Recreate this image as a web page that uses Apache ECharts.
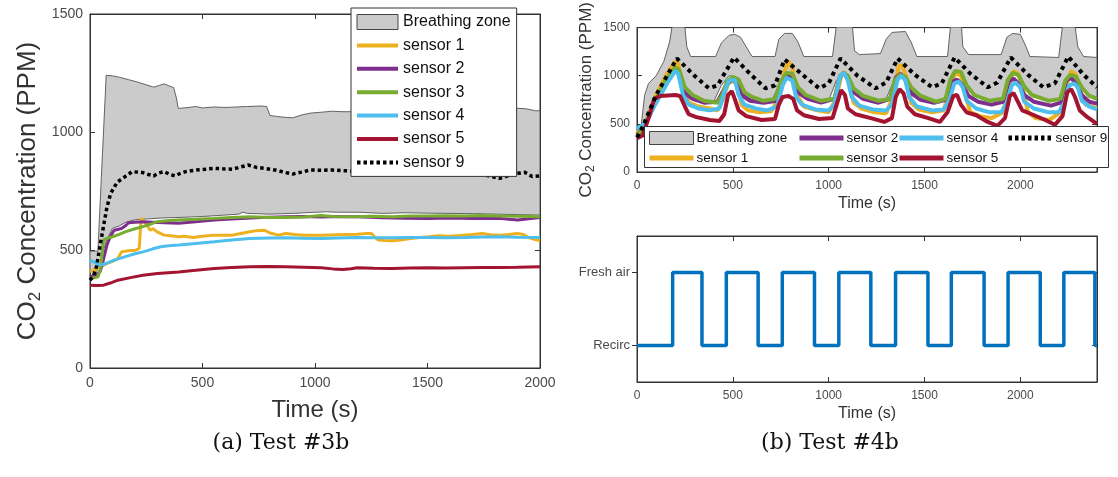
<!DOCTYPE html>
<html>
<head>
<meta charset="utf-8">
<script src="https://cdn.jsdelivr.net/npm/echarts@6/dist/echarts.min.js"></script>
<style>
  html, body { margin: 0; padding: 0; background: #fff; }
  #chart { width: 1118px; height: 477px; }
</style>
</head>
<body>
<div id="chart"></div>
<script>
// ---------- (a) Test #3b : [time (s), CO2 (ppm)] ----------
const bzUpperA = [[0,495],[35,495],[50,800],[72,1240],[100,1238],[130,1232],[170,1222],[210,1212],[250,1200],[283,1190],[310,1198],[330,1204],[350,1196],[372,1188],[385,1140],[392,1100],[440,1104],[470,1108],[500,1102],[550,1106],[600,1104],[650,1106],[700,1108],[760,1110],[785,1108],[800,1070],[830,1066],[870,1062],[900,1060],[940,1072],[980,1080],[1030,1084],[1076,1088],[1120,1086],[1160,1086],[1200,1090],[1300,1094],[1400,1096],[1500,1098],[1600,1098],[1700,1100],[1800,1100],[1880,1102],[1940,1098],[1980,1090],[2000,1090]];
const bzLowerA = [[0,410],[30,410],[45,440],[60,500],[75,545],[100,592],[130,602],[160,618],[200,628],[260,632],[330,636],[400,638],[500,642],[600,648],[660,652],[680,660],[700,655],[800,652],[900,655],[1000,660],[1050,662],[1100,660],[1200,660],[1300,655],[1400,658],[1500,656],[1600,655],[1700,654],[1800,652],[1900,650],[2000,648]];
const s1A = [[0,407],[30,420],[50,430],[76,443],[100,452],[124,464],[140,492],[170,497],[203,499],[219,507],[227,634],[235,641],[250,610],[267,584],[280,590],[298,577],[330,563],[360,560],[394,556],[420,558],[457,553],[500,558],[552,563],[600,562],[632,563],[670,570],[711,577],[740,582],[775,584],[800,572],[838,563],[870,570],[910,566],[949,563],[1000,563],[1028,563],[1100,565],[1187,567],[1230,570],[1251,570],[1265,556],[1282,542],[1310,540],[1346,539],[1380,542],[1425,549],[1465,553],[1505,556],[1550,560],[1600,558],[1663,563],[1700,566],[1743,570],[1780,565],[1822,563],[1860,566],[1901,570],[1925,566],[1949,553],[1975,545],[2000,539]];
const s2A = [[0,386],[25,395],[44,407],[55,440],[65,480],[75,520],[84,542],[95,565],[108,584],[140,591],[160,605],[171,615],[200,618],[235,620],[300,617],[394,613],[470,620],[552,627],[650,632],[760,638],[870,641],[950,642],[1028,640],[1100,642],[1187,641],[1300,637],[1400,635],[1505,634],[1600,636],[1700,633],[1822,634],[1860,630],[1901,627],[1950,632],[2000,638]];
const s3A = [[0,379],[20,382],[36,386],[48,430],[60,542],[76,549],[100,556],[130,566],[156,577],[200,590],[235,599],[270,610],[298,620],[340,624],[394,627],[470,630],[552,634],[630,638],[711,641],[800,638],[870,638],[950,640],[1028,646],[1080,642],[1187,641],[1250,643],[1346,641],[1420,644],[1505,644],[1580,645],[1663,644],[1740,646],[1822,644],[1900,643],[1950,642],[2000,641]];
const s4A = [[0,457],[20,448],[44,436],[70,442],[108,457],[150,470],[200,484],[235,492],[280,505],[314,514],[350,518],[394,521],[470,528],[552,535],[630,542],[711,549],[790,551],[870,552],[950,550],[1028,549],[1100,551],[1187,553],[1260,552],[1346,552],[1420,553],[1505,553],[1580,552],[1663,553],[1740,555],[1822,556],[1900,554],[2000,553]];
const s5A = [[0,351],[30,350],[60,351],[90,360],[124,372],[180,383],[235,393],[300,400],[394,407],[470,414],[552,422],[630,426],[711,429],[790,430],[870,429],[950,427],[1028,425],[1080,420],[1124,417],[1160,421],[1187,425],[1260,423],[1346,422],[1420,424],[1505,425],[1580,424],[1663,425],[1740,426],[1822,426],[1900,427],[2000,429]];
const s9A = [[0,372],[15,390],[29,430],[45,520],[60,600],[75,680],[92,740],[110,770],[124,790],[140,800],[156,811],[187,832],[210,830],[235,828],[260,820],[283,814],[305,826],[330,832],[355,820],[378,814],[400,824],[425,832],[450,836],[473,839],[510,842],[552,846],[590,844],[632,842],[670,852],[703,860],[740,850],[775,846],[805,842],[838,836],[870,828],[901,822],[940,830],[981,839],[1030,838],[1076,839],[1120,836],[1155,835],[1200,832],[1250,836],[1300,838],[1350,840],[1400,838],[1450,842],[1500,840],[1550,836],[1600,838],[1650,836],[1700,826],[1750,818],[1790,810],[1822,804],[1850,812],[1875,822],[1901,825],[1933,829],[1950,820],[1965,811],[2000,814]];

// ---------- (b) Test #4b ----------
const bzUpperB = [[0,430],[20,450],[40,800],[60,920],[100,1000],[140,1150],[170,1350],[190,1600],[245,1600],[260,1300],[280,1200],[410,1200],[440,1340],[480,1420],[510,1430],[540,1400],[570,1300],[600,1200],[720,1200],[740,1380],[770,1440],[810,1440],[840,1350],[870,1200],[1020,1200],[1045,1600],[1120,1600],[1135,1260],[1160,1220],[1270,1230],[1300,1380],[1330,1450],[1400,1460],[1430,1350],[1460,1200],[1620,1200],[1640,1600],[1690,1600],[1700,1300],[1730,1220],[1900,1220],[1930,1400],[1960,1440],[2000,1430],[2030,1300],[2050,1200],[2200,1190],[2225,1600],[2280,1600],[2300,1300],[2330,1200],[2400,1190]];
const bzLowerB = [[0,350],[40,450],[100,700],[150,900],[200,1080],[230,1000],[260,850],[300,760],[360,720],[400,730],[440,900],[480,1000],[510,990],[540,850],[580,770],[640,720],[700,730],[740,900],[780,1000],[810,980],[840,850],[880,780],[950,720],[1000,740],[1040,950],[1070,1020],[1100,980],[1130,850],[1180,780],[1240,740],[1300,760],[1340,950],[1370,1020],[1400,980],[1430,850],[1480,770],[1540,720],[1600,740],[1640,950],[1670,1030],[1700,980],[1730,850],[1780,780],[1840,730],[1900,740],[1940,950],[1970,1010],[2000,980],[2030,860],[2080,780],[2140,740],[2200,760],[2240,960],[2270,1010],[2300,980],[2330,860],[2360,800],[2400,780]];
const s1B = [[0,400],[40,500],[100,800],[150,1000],[200,1150],[215,1120],[240,900],[270,720],[320,680],[380,660],[420,640],[450,760],[475,920],[500,950],[525,900],[545,700],[580,640],[640,620],[700,630],[740,760],[770,1050],[790,1150],[810,1080],[835,800],[870,680],[940,640],[1000,620],[1040,760],[1065,1000],[1080,1040],[1105,950],[1130,720],[1170,660],[1240,620],[1300,610],[1340,800],[1365,1100],[1385,1110],[1410,950],[1430,720],[1470,650],[1540,620],[1600,640],[1640,900],[1660,1030],[1690,1000],[1715,780],[1740,620],[1790,580],[1850,560],[1910,620],[1940,900],[1965,1050],[1990,1020],[2015,850],[2040,620],[2080,560],[2150,540],[2210,620],[2240,900],[2265,1050],[2290,1010],[2315,820],[2340,700],[2400,660]];
const s2B = [[0,380],[40,470],[100,740],[150,920],[200,1080],[220,1030],[250,820],[290,760],[350,720],[420,730],[460,880],[490,960],[520,940],[545,800],[590,740],[660,720],[730,740],[760,940],[790,1000],[820,960],[845,820],[890,760],[960,720],[1030,760],[1060,1000],[1080,1030],[1105,960],[1130,830],[1180,760],[1260,720],[1320,760],[1350,980],[1375,1020],[1400,960],[1430,820],[1480,750],[1550,720],[1610,750],[1640,940],[1670,960],[1700,900],[1730,790],[1780,730],[1850,700],[1910,730],[1940,940],[1965,970],[1990,920],[2020,800],[2070,730],[2160,690],[2210,720],[2240,950],[2265,980],[2290,920],[2320,800],[2360,730],[2400,710]];
const s3B = [[0,370],[40,470],[100,760],[150,960],[200,1090],[220,1060],[250,880],[290,800],[350,740],[420,720],[445,800],[470,940],[500,990],[530,960],[560,830],[600,780],[660,740],[720,760],[750,940],[780,1030],[810,1020],[840,880],[880,800],[960,740],[1030,760],[1055,960],[1075,1030],[1100,1000],[1130,870],[1180,790],[1260,740],[1320,760],[1345,950],[1370,1010],[1400,990],[1430,880],[1480,790],[1560,730],[1610,760],[1635,960],[1660,1050],[1690,1040],[1720,900],[1760,800],[1840,740],[1910,760],[1935,960],[1960,1030],[1990,1010],[2020,890],[2060,800],[2150,740],[2210,760],[2235,950],[2260,1010],[2290,990],[2320,880],[2360,790],[2400,760]];
const s4B = [[0,450],[40,500],[100,720],[160,930],[200,1050],[215,1020],[240,800],[270,700],[320,660],[380,640],[430,660],[460,850],[480,950],[510,960],[530,800],[560,700],[620,660],[680,640],[730,680],[760,900],[780,980],[810,950],[830,780],[860,700],[930,650],[1000,640],[1030,700],[1060,1000],[1080,1030],[1100,950],[1120,780],[1160,690],[1230,650],[1300,640],[1330,700],[1360,960],[1380,1000],[1400,950],[1420,780],[1460,680],[1540,640],[1600,650],[1630,750],[1655,920],[1680,940],[1700,880],[1720,740],[1770,660],[1840,620],[1900,620],[1930,720],[1955,900],[1975,930],[2000,880],[2020,730],[2070,660],[2150,620],[2200,620],[2230,720],[2255,900],[2280,920],[2300,880],[2320,740],[2360,680],[2400,650]];
const s5B = [[0,350],[30,380],[60,560],[90,760],[120,790],[200,800],[225,790],[250,680],[270,600],[310,570],[380,540],[430,530],[455,600],[475,800],[495,840],[510,760],[530,640],[570,580],[650,540],[720,550],[740,700],[760,780],[790,790],[815,760],[835,640],[870,590],[950,550],[1020,560],[1045,720],[1065,850],[1085,800],[1100,660],[1140,600],[1220,560],[1290,520],[1330,560],[1350,780],[1370,860],[1390,820],[1410,680],[1450,600],[1520,560],[1580,520],[1620,620],[1650,790],[1670,800],[1690,700],[1720,620],[1770,590],[1830,520],[1880,480],[1920,560],[1945,790],[1965,820],[1985,740],[2010,640],[2060,600],[2130,540],[2180,490],[2220,580],[2245,830],[2265,860],[2285,780],[2310,640],[2350,570],[2400,500]];
const s9B = [[0,360],[30,470],[100,800],[208,1180],[300,1000],[375,870],[420,900],[506,1190],[600,1000],[670,870],[720,900],[770,1170],[870,1000],[950,870],[1000,920],[1062,1180],[1150,1000],[1245,870],[1300,930],[1360,1180],[1450,1010],[1540,880],[1590,920],[1657,1190],[1740,1020],[1830,880],[1880,930],[1950,1190],[2040,1010],[2120,880],[2180,920],[2250,1200],[2330,1010],[2400,880]];

// damper switch times (s), starts on Recirc (0) and alternates
const switchTimes = [186,339,466,632,758,926,1053,1220,1349,1518,1640,1811,1936,2104,2227,2389];
const modeLabels = ['Recirc', 'Fresh air'];

const xTicksA = [0, 500, 1000, 1500, 2000];
const xTicksB = [0, 500, 1000, 1500, 2000];

const FONT = 'Liberation Sans, Arial, sans-serif';
const C = {
  s1: '#EDB120', s2: '#7E2F8E', s3: '#77AC30', s4: '#4DBEEE', s5: '#A2142F', s9: '#000000',
  band: '#cbcbcb', wave: '#0072BD', axis: '#333333', label: '#4a4a4a',
};

//方波点
const buildWave = (times, tEnd) => {
  const pts = [[0, 0]];
  let state = 0;
  times.forEach((t) => {
    pts.push([t, state]);
    state = 1 - state;
    pts.push([t, state]);
  });
  pts.push([tEnd, state]);
  return pts;
};

//呼吸区色带 (polygon through api.coord)
const bandItem = (upper, lower) => (params, api) => {
  if (params.dataIndex !== 0) return;
  const pts = upper.map((p) => api.coord(p)).concat(lower.slice().reverse().map((p) => api.coord(p)));
  const cs = params.coordSys;
  return {
    type: 'polygon',
    shape: { points: pts },
    style: { fill: C.band, stroke: '#555', lineWidth: 0.9 },
    clipPath: { type: 'rect', shape: { x: cs.x, y: cs.y, width: cs.width, height: cs.height } },
  };
};

const grid = [
  { left: 90, top: 14, width: 450, height: 354, show: true, borderColor: C.axis, borderWidth: 1 },
  { left: 637, top: 25, width: 460, height: 147, show: true, borderColor: C.axis, borderWidth: 1 },
  { left: 637, top: 236, width: 460, height: 146, show: true, borderColor: C.axis, borderWidth: 1 },
];

const tickStyle = { inside: true, length: 5, lineStyle: { color: C.axis } };

const xPair = (gridIndex, max, ticks, labelSize, nameSize, nameGap) => [
  {
    type: 'value', gridIndex, min: 0, max, interval: 500,
    name: 'Time (s)', nameLocation: 'middle', nameGap,
    nameTextStyle: { fontFamily: FONT, fontSize: nameSize, color: '#333' },
    axisLine: { onZero: false, lineStyle: { color: C.axis } },
    axisTick: tickStyle,
    axisLabel: {
      fontFamily: FONT, fontSize: labelSize, color: C.label, margin: 8,
      formatter: (v) => (ticks.includes(v) ? String(v) : ''),
    },
    splitLine: { show: false },
  },
  {
    type: 'value', gridIndex, position: 'top', min: 0, max, interval: 500,
    axisLine: { onZero: false, lineStyle: { color: C.axis } }, axisTick: tickStyle,
    axisLabel: { show: false }, splitLine: { show: false },
  },
];

const co2Name = (size, sub, lh) => ({
  name: '{a|CO}{b|2}{a| Concentration (PPM)}',
  nameLocation: 'middle',
  nameTextStyle: {
    rich: {
      a: { fontFamily: FONT, fontSize: size, color: '#333', lineHeight: lh },
      b: { fontFamily: FONT, fontSize: sub, color: '#333', lineHeight: sub, verticalAlign: 'bottom' },
    },
  },
});

const yPair = (gridIndex, extra, labelSize) => [
  Object.assign({
    type: 'value', gridIndex,
    axisLine: { onZero: false, lineStyle: { color: C.axis } }, axisTick: tickStyle,
    axisLabel: { fontFamily: FONT, fontSize: labelSize, color: C.label, margin: 7, formatter: (v) => String(v) },
    splitLine: { show: false },
  }, extra),
  {
    type: 'value', gridIndex, position: 'right', min: extra.min, max: extra.max, interval: extra.interval,
    axisLine: { onZero: false, lineStyle: { color: C.axis } },
    axisTick: Object.assign({}, tickStyle, extra.axisTick || {}),
    axisLabel: { show: false }, splitLine: { show: false },
  },
];

const line = (name, data, color, width, axisIndex, dash) => ({
  type: 'line', name, data, xAxisIndex: axisIndex, yAxisIndex: axisIndex,
  symbol: 'none', z: 2, silent: true,
  lineStyle: { color, width, type: dash || 'solid', cap: 'butt' },
  itemStyle: { color },
});

const band = (upper, lower, axisIndex) => ({
  type: 'custom', name: 'Breathing zone', xAxisIndex: axisIndex, yAxisIndex: axisIndex,
  data: [[0, 0]], renderItem: bandItem(upper, lower), z: 1, silent: true,
  itemStyle: { color: C.band },
});

const bzLegend = { name: 'Breathing zone', icon: 'rect', itemStyle: { color: C.band, borderColor: '#444', borderWidth: 1, opacity: 1 } };
const legendB = (left, data) => ({
  orient: 'vertical', left, top: 131, padding: 0, itemGap: 6, itemWidth: 44, itemHeight: 13,
  selectedMode: false, z: 6,
  itemStyle: { opacity: 0 },
  lineStyle: { width: 5 },
  textStyle: { fontFamily: FONT, fontSize: 13.5, color: '#111', padding: [0, 0, 0, -2] },
  data,
});

const option = {
  animation: false,
  backgroundColor: '#fff',
  grid,
  xAxis: [
    ...xPair(0, 2000, xTicksA, 14, 24, 30),
    ...xPair(1, 2400, xTicksB, 12, 16, 24),
    ...xPair(2, 2400, xTicksB, 12, 16, 24),
  ],
  yAxis: [
    ...yPair(0, Object.assign({ min: 0, max: 1500, interval: 500, nameGap: 46 }, co2Name(26, 17, 32)), 14),
    ...yPair(1, Object.assign({ min: 0, max: 1500, interval: 500, nameGap: 40 }, co2Name(17, 12, 21)), 12),
    ...yPair(2, {
      min: -0.5, max: 1.5, interval: 0.5,
      axisTick: { customValues: [0, 1] },
      axisLabel: {
        fontFamily: FONT, fontSize: 13, color: C.label, margin: 7, customValues: [0, 1],
        formatter: (v) => (v === 0 || v === 1 ? modeLabels[v] : ''),
      },
    }, 13),
  ],
  legend: [
    {
      orient: 'vertical', left: 351, top: 8, padding: [6, 6, 6, 4],
      itemWidth: 41, itemHeight: 15, itemGap: 7.4,
      backgroundColor: '#fff', borderColor: '#333', borderWidth: 1,
      selectedMode: false, z: 6,
      itemStyle: { opacity: 0 },
      lineStyle: { width: 4 },
      textStyle: { fontFamily: FONT, fontSize: 16, color: '#111' },
      data: [bzLegend, 'sensor 1', 'sensor 2', 'sensor 3', 'sensor 4', 'sensor 5', 'sensor 9'],
    },
    legendB(647, [bzLegend, 'sensor 1']),
    legendB(797, ['sensor 2', 'sensor 3']),
    legendB(897, ['sensor 4', 'sensor 5']),
    legendB(1006, ['sensor 9']),
  ],
  graphic: [
    {
      type: 'rect', z: 5, silent: true,
      shape: { x: 644.5, y: 126.5, width: 464, height: 41 },
      style: { fill: '#fff', stroke: '#333', lineWidth: 1 },
    },
    {
      type: 'text', x: 281, y: 443, silent: true,
      style: { text: '(a) Test #3b', fontFamily: 'DejaVu Serif', fontSize: 22, fill: '#111', align: 'center', verticalAlign: 'middle' },
    },
    {
      type: 'text', x: 830, y: 443, silent: true,
      style: { text: '(b) Test #4b', fontFamily: 'DejaVu Serif', fontSize: 22, fill: '#111', align: 'center', verticalAlign: 'middle' },
    },
  ],
  series: [
    band(bzUpperA, bzLowerA, 0),
    line('sensor 1', s1A, C.s1, 3, 0),
    line('sensor 2', s2A, C.s2, 3, 0),
    line('sensor 3', s3A, C.s3, 3, 0),
    line('sensor 4', s4A, C.s4, 3, 0),
    line('sensor 5', s5A, C.s5, 3, 0),
    line('sensor 9', s9A, C.s9, 3.5, 0, [3.5, 3]),

    band(bzUpperB, bzLowerB, 2),
    line('sensor 1', s1B, C.s1, 4, 2),
    line('sensor 2', s2B, C.s2, 4, 2),
    line('sensor 3', s3B, C.s3, 4, 2),
    line('sensor 4', s4B, C.s4, 4, 2),
    line('sensor 5', s5B, C.s5, 4, 2),
    line('sensor 9', s9B, C.s9, 4, 2, [4, 4]),

    line('damper', buildWave(switchTimes, 2400), C.wave, 3.5, 4),
  ],
};

const chart = echarts.init(document.getElementById('chart'));
chart.setOption(option);
</script>
</body>
</html>
